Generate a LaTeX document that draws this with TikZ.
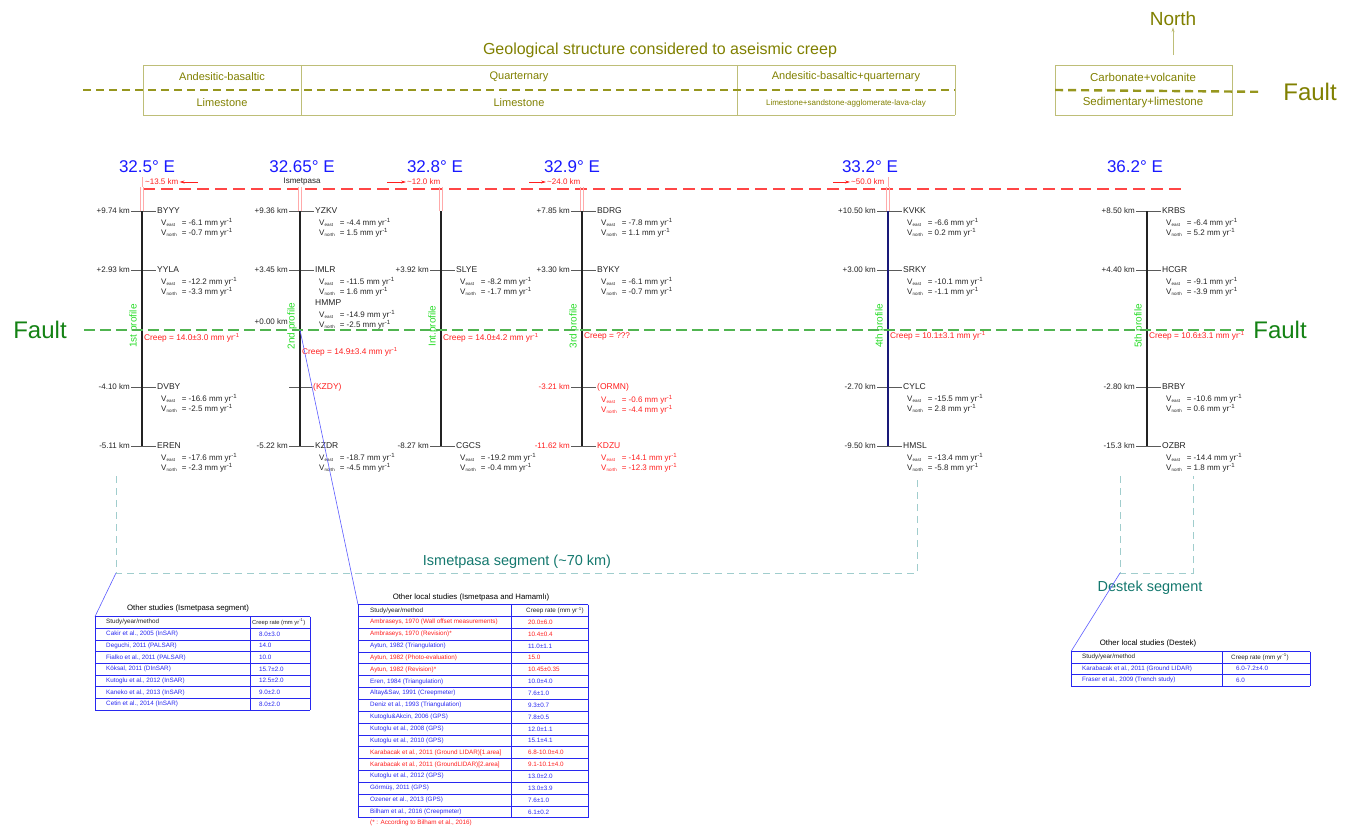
\documentclass[tikz,border=0pt]{standalone}
\usepackage{fontspec}
\setmainfont{Liberation Sans}
\usetikzlibrary{positioning,arrows.meta}
\definecolor{geoolive}{RGB}{128,128,0}
\definecolor{georule}{RGB}{190,190,120}
\definecolor{geodash}{RGB}{150,150,30}
\definecolor{lonblue}{RGB}{25,25,255}
\definecolor{kmred}{RGB}{255,30,30}
\definecolor{dashred}{RGB}{255,70,70}
\definecolor{barred}{RGB}{255,170,170}
\definecolor{faultgreen}{RGB}{20,130,20}
\definecolor{dashgreen}{RGB}{80,180,80}
\definecolor{proflgreen}{RGB}{40,220,40}
\definecolor{segteal}{RGB}{20,120,110}
\definecolor{segdash}{RGB}{160,205,205}
\definecolor{linkblue}{RGB}{90,90,255}
\definecolor{tabblue}{RGB}{40,40,240}
\definecolor{stnblack}{RGB}{35,35,35}
\definecolor{navyline}{RGB}{25,25,120}
\definecolor{tickgray}{RGB}{90,90,90}

\newcommand{\vsub}[1]{V\raisebox{-1.2pt}{\fontsize{4.5}{5}\selectfont #1}}
\newcommand{\velpair}[2]{\begin{tabular}{@{}l@{\hspace{5pt}}l@{}}\vsub{east} & = #1 mm yr\textsuperscript{-1}\\\vsub{north} & = #2 mm yr\textsuperscript{-1}\end{tabular}}

\begin{document}
\begin{tikzpicture}[x=1pt, y=-1pt,
    every node/.style={inner sep=1pt},
    distlbl/.style={anchor=east, font=\fontsize{8}{9}\selectfont},
    stnlbl/.style={anchor=west, font=\fontsize{8.5}{10}\selectfont},
    velbox/.style={anchor=north west, inner sep=0pt, font=\fontsize{8}{10}\selectfont},
    sttick/.style={draw=tickgray, line width=0.6pt},
    profline/.style={line width=2.6pt},
    proflbl/.style={rotate=90, anchor=south, text=proflgreen, font=\fontsize{10}{12}\selectfont},
    creeplbl/.style={anchor=west, text=kmred, font=\fontsize{8.3}{9}\selectfont},
    lonlbl/.style={text=lonblue, font=\fontsize{17}{20}\selectfont},
    kmlbl/.style={text=kmred, font=\fontsize{8}{9}\selectfont},
    kmarrow/.style={->, >={Stealth[length=5pt,width=3pt]}, kmred, line width=0.6pt},
    redbar/.style={barred, line width=0.6pt},
    geocell/.style={text=geoolive, font=\fontsize{11}{13}\selectfont},
    georules/.style={georule, line width=0.8pt},
    geofault/.style={geodash, line width=2.4pt, dash pattern=on 8pt off 5pt},
    faultlbl/.style={font=\fontsize{24}{28}\selectfont},
    faultdashed/.style={dashgreen, line width=1.2pt, dash pattern=on 11pt off 5pt},
    segdashed/.style={segdash, line width=1pt, dash pattern=on 7pt off 5pt},
    seglbl/.style={text=segteal, font=\fontsize{14.5}{17}\selectfont},
    linkline/.style={linkblue, line width=0.6pt},
    tabline/.style={tabblue, line width=0.7pt},
    tabtitle/.style={font=\fontsize{7.8}{9}\selectfont},
    tabhead/.style={anchor=west, text=stnblack, font=\fontsize{6.3}{7}\selectfont},
    tabtxt/.style={anchor=west, font=\fontsize{6.3}{7}\selectfont}]
\useasboundingbox (0,0) rectangle (1351,827);

% geology header
\node[text=geoolive, font=\fontsize{16}{19}\selectfont] (geotitle) at (660,50) {Geological structure considered to aseismic creep};
\draw[georules] (143,65) -- (955,65);
\draw[georules] (143,115) -- (955,115);
\foreach \gx in {143,301,737,955}
  \draw[georules] (\gx,65) -- (\gx,115);
\draw[georules] (1055,65) rectangle (1232,115);
\node[geocell] (g1) at (222,77) {Andesitic-basaltic};
\node[geocell] (g2) at (519,77) {Quarternary};
\node[geocell] (g3) at (846,77) {Andesitic-basaltic+quarternary};
\node[geocell] (g4) at (222,103) {Limestone};
\node[geocell] (g5) at (519,103) {Limestone};
\node[geocell, font=\fontsize{8}{9}\selectfont] (g6) at (846,103) {Limestone+sandstone-agglomerate-lava-clay};
\node[geocell, font=\fontsize{11.5}{13}\selectfont] (g7) at (1143,77) {Carbonate+volcanite};
\node[geocell, font=\fontsize{11.5}{13}\selectfont] (g8) at (1143,103) {Sedimentary+limestone};
\node[faultlbl, text=geoolive] (topfault) at (1310,92) {Fault};
\draw[geofault] (83,90) -- (955,90);
\draw[geofault, shorten >=20pt] (1055,90) -- (topfault.west);
\node[text=geoolive, font=\fontsize{19}{22}\selectfont] (north) at (1173,19) {North};
\coordinate (northfoot) at (1173,55);
\draw[->, >={Stealth[length=5pt,width=3pt]}, georule, line width=1pt] (northfoot) -- (north.south);

% distances along the fault
\draw[dashred, line width=1.3pt, dash pattern=on 12pt off 6pt] (143,189) -- (1182,189);
\foreach \px in {142,300,441,582,888} {
  \draw[redbar] (\px-1.5,187) -- (\px-1.5,211);
  \draw[redbar] (\px+1.5,187) -- (\px+1.5,211);
}
\draw[redbar] (142,177) -- (142,187);
\draw[redbar] (888,177) -- (888,187);
\node[kmlbl, anchor=west] (km1) at (144,182) {\textasciitilde13.5 km};
\coordinate (km1tail) at (198,182);
\draw[kmarrow] (km1tail) -- (km1.east);
\node[font=\fontsize{8}{9}\selectfont, text=stnblack] (ismetpasa) at (302,182) {Ismetpasa};
\node[kmlbl, anchor=west] (km2) at (406,182) {\textasciitilde12.0 km};
\coordinate (km2tail) at (387,182);
\draw[kmarrow] (km2tail) -- (km2.west);
\node[kmlbl, anchor=west] (km3) at (546,182) {\textasciitilde24.0 km};
\coordinate (km3tail) at (529,182);
\draw[kmarrow] (km3tail) -- (km3.west);
\node[kmlbl, anchor=west] (km4) at (850,182) {\textasciitilde50.0 km};
\coordinate (km4tail) at (833,182);
\draw[kmarrow] (km4tail) -- (km4.west);

% GPS stations
\foreach \px/\py/\dst/\stn/\ve/\vn/\clr [count=\k] in {
    142/211/+9.74 km/BYYY/-6.1/-0.7/stnblack,
    142/270/+2.93 km/YYLA/-12.2/-3.3/stnblack,
    142/387/-4.10 km/DVBY/-16.6/-2.5/stnblack,
    142/446/-5.11 km/EREN/-17.6/-2.3/stnblack,
    300/211/+9.36 km/YZKV/-4.4/1.5/stnblack,
    300/270/+3.45 km/IMLR/-11.5/1.6/stnblack,
    300/446/-5.22 km/KZDR/-18.7/-4.5/stnblack,
    441/270/+3.92 km/SLYE/-8.2/-1.7/stnblack,
    441/446/-8.27 km/CGCS/-19.2/-0.4/stnblack,
    582/211/+7.85 km/BDRG/-7.8/1.1/stnblack,
    582/270/+3.30 km/BYKY/-6.1/-0.7/stnblack,
    582/387/-3.21 km/(ORMN)/-0.6/-4.4/kmred,
    582/446/-11.62 km/KDZU/-14.1/-12.3/kmred,
    888/211/+10.50 km/KVKK/-6.6/0.2/stnblack,
    888/270/+3.00 km/SRKY/-10.1/-1.1/stnblack,
    888/387/-2.70 km/CYLC/-15.5/2.8/stnblack,
    888/446/-9.50 km/HMSL/-13.4/-5.8/stnblack,
    1147/211/+8.50 km/KRBS/-6.4/5.2/stnblack,
    1147/270/+4.40 km/HCGR/-9.1/-3.9/stnblack,
    1147/387/-2.80 km/BRBY/-10.6/0.6/stnblack,
    1147/446/-15.3 km/OZBR/-14.4/1.8/stnblack} {
  \node[distlbl, text=\clr] (d\k) at (\px-11,\py) {\dst};
  \node[stnlbl, text=\clr] (s\k) at (\px+14,\py) {\stn};
  \draw[sttick] (d\k.east) -- (s\k.west);
  \node[velbox, text=\clr, below right=3pt and 5pt of s\k.south west] (v\k) {\velpair{\ve}{\vn}};
}
\node[distlbl, text=stnblack] (d0) at (289,322) {+0.00 km};
\node[stnlbl, text=stnblack] (hmmp) at (314,303) {HMMP};
\node[velbox, text=stnblack, below right=3pt and 5pt of hmmp.south west] (vhmmp) {\velpair{-14.9}{-2.5}};
\coordinate (kzdytick) at (289,387);
\node[stnlbl, text=kmred] (kzdy) at (312,387) {(KZDY)};
\draw[sttick] (kzdytick) -- (kzdy.west);

% profiles
\foreach \px/\lonx/\lon/\plbl/\cy/\crp/\pcol [count=\k] in {
    142/147/32.5° E/1st profile/338/14.0±3.0 mm yr\textsuperscript{-1}/stnblack,
    300/302/32.65° E/2nd profile/352/14.9±3.4 mm yr\textsuperscript{-1}/stnblack,
    441/435/32.8° E/Int.profile/338/14.0±4.2 mm yr\textsuperscript{-1}/stnblack,
    582/572/32.9° E/3rd profile/336/???/stnblack,
    888/870/33.2° E/4th profile/336/10.1±3.1 mm yr\textsuperscript{-1}/navyline,
    1147/1135/36.2° E/5th profile/336/10.6±3.1 mm yr\textsuperscript{-1}/stnblack} {
  \draw[profline, \pcol] (\px,211) -- (\px,446);
  \node[lonlbl] (lon\k) at (\lonx,167) {\lon};
  \node[proflbl] (pl\k) at (\px-2,326) {\plbl};
  \node[creeplbl] (cr\k) at (\px+1,\cy) {Creep = \crp};
}

% fault trace
\node[faultlbl, text=faultgreen] (faultL) at (40,330) {Fault};
\node[faultlbl, text=faultgreen] (faultR) at (1280,330) {Fault};
\draw[faultdashed, shorten <=16pt, shorten >=8pt] (faultL.east) -- (faultR.west);

% segments
\draw[segdashed] (116,476) -- (116,573) -- (917,573) -- (917,476);
\draw[segdashed] (1120,476) -- (1120,573) -- (1193,573) -- (1193,476);
\node[seglbl] (ismseg) at (517,562) {Ismetpasa segment (\textasciitilde70 km)};
\node[seglbl] (desseg) at (1150,588) {Destek segment};
\coordinate (ismcorner) at (116,573);
\coordinate (descorner) at (1120,573);
\coordinate (p2fault) at (300,330);
\coordinate (tabLnw) at (95,616.5);
\coordinate (tabMnw) at (358,604.5);
\coordinate (tabRnw) at (1071,651.5);
\draw[linkline] (ismcorner) -- (tabLnw);
\draw[linkline] (p2fault) -- (tabMnw);
\draw[linkline] (descorner) -- (tabRnw);

% other studies (Ismetpasa segment)
\node[tabtitle] (tabLtitle) at (188,608) {Other studies (Ismetpasa segment)};
\foreach \r in {0,...,8}
  \draw[tabline] (95,616.5+11.7*\r) -- (310,616.5+11.7*\r);
\foreach \cx in {95,250,310}
  \draw[tabline] (\cx,616.5) -- (\cx,710.1);
\node[tabhead] (tabLh1) at (105,622.3) {Study/year/method};
\node[tabhead, font=\fontsize{5.8}{7}\selectfont] (tabLh2) at (251,622.3) {Creep rate (mm yr\textsuperscript{-1})};
\foreach \txt/\val [count=\i] in {
    {Cakir et al., 2005 (InSAR)}/8.0±3.0,
    {Deguchi, 2011 (PALSAR)}/14.0,
    {Fialko et al., 2011 (PALSAR)}/10.0,
    {Köksal, 2011 (DInSAR)}/15.7±2.0,
    {Kutoglu et al., 2012 (InSAR)}/12.5±2.0,
    {Kaneko et al., 2013 (InSAR)}/9.0±2.0,
    {Cetin et al., 2014 (InSAR)}/8.0±2.0} {
  \node[tabtxt, text=tabblue] (tabL\i) at (105,622.3+11.7*\i) {\txt};
  \node[tabtxt, text=tabblue] (tabLv\i) at (258,622.3+11.7*\i) {\val};
}

% other local studies (Ismetpasa and Hamamli)
\node[tabtitle] (tabMtitle) at (471,597) {Other local studies (Ismetpasa and Hamamlı)};
\foreach \r in {0,...,18}
  \draw[tabline] (358,604.5+11.85*\r) -- (588,604.5+11.85*\r);
\foreach \cx in {358,511,588}
  \draw[tabline] (\cx,604.5) -- (\cx,817.8);
\node[tabhead] (tabMh1) at (369,610.4) {Study/year/method};
\node[tabhead] (tabMh2) at (525,610.4) {Creep rate (mm yr\textsuperscript{-1})};
\foreach \txt/\val/\clr [count=\i] in {
    {Ambraseys, 1970 (Wall offset measurements)}/20.0±6.0/kmred,
    {Ambraseys, 1970 (Revision)*}/10.4±0.4/kmred,
    {Aytun, 1982 (Triangulation)}/11.0±1.1/tabblue,
    {Aytun, 1982 (Photo-evaluation)}/15.0/kmred,
    {Aytun, 1982 (Revision)*}/10.45±0.35/kmred,
    {Eren, 1984 (Triangulation)}/10.0±4.0/tabblue,
    {Altay\&Sav, 1991 (Creepmeter)}/7.6±1.0/tabblue,
    {Deniz et al., 1993 (Triangulation)}/9.3±0.7/tabblue,
    {Kutoglu\&Akcin, 2006 (GPS)}/7.8±0.5/tabblue,
    {Kutoglu et al., 2008 (GPS)}/12.0±1.1/tabblue,
    {Kutoglu et al., 2010 (GPS)}/15.1±4.1/tabblue,
    {Karabacak et al., 2011 (Ground LIDAR)[1.area]}/6.8-10.0±4.0/kmred,
    {Karabacak et al., 2011 (GroundLIDAR)[2.area]}/9.1-10.1±4.0/kmred,
    {Kutoglu et al., 2012 (GPS)}/13.0±2.0/tabblue,
    {Görmüş, 2011 (GPS)}/13.0±3.9/tabblue,
    {Ozener et al., 2013 (GPS)}/7.6±1.0/tabblue,
    {Bilham et al., 2016 (Creepmeter)}/6.1±0.2/tabblue} {
  \node[tabtxt, text=\clr] (tabM\i) at (369,610.4+11.85*\i) {\txt};
  \node[tabtxt, text=\clr] (tabMv\i) at (527,610.4+11.85*\i) {\val};
}
\node[tabtxt, text=kmred] (tabMnote) at (369,823) {(* : According to Bilham et al., 2016)};

% other local studies (Destek)
\node[tabtitle] (tabRtitle) at (1148,643) {Other local studies (Destek)};
\foreach \r in {0,...,3}
  \draw[tabline] (1071,651.5+11.5*\r) -- (1310,651.5+11.5*\r);
\foreach \cx in {1071,1222,1310}
  \draw[tabline] (\cx,651.5) -- (\cx,686);
\node[tabhead] (tabRh1) at (1081,657.2) {Study/year/method};
\node[tabhead] (tabRh2) at (1230,657.2) {Creep rate (mm yr\textsuperscript{-1})};
\node[tabtxt, text=tabblue] (tabR1) at (1081,668.7) {Karabacak et al., 2011 (Ground LIDAR)};
\node[tabtxt, text=tabblue] (tabRv1) at (1235,668.7) {6.0-7.2±4.0};
\node[tabtxt, text=tabblue] (tabR2) at (1081,680.2) {Fraser et al., 2009 (Trench study)};
\node[tabtxt, text=tabblue] (tabRv2) at (1235,680.2) {6.0};
\end{tikzpicture}
\end{document}
